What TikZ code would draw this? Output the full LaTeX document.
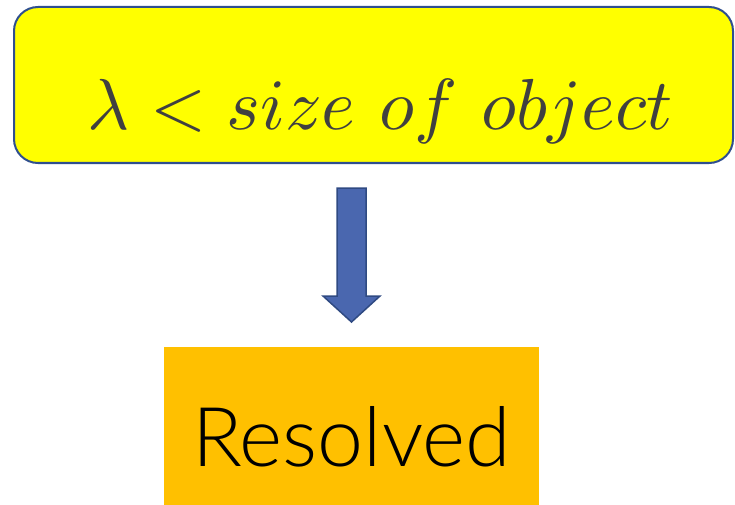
\documentclass[tikz,border=0pt]{standalone}
\usepackage{fontspec}
\newfontfamily\thinsans{Lato Light}
\definecolor{condfill}{HTML}{FFFF00}
\definecolor{condedge}{HTML}{2F4F8F}
\definecolor{condtext}{HTML}{404040}
\definecolor{resfill}{HTML}{FFC000}
\definecolor{arrowfill}{HTML}{4A67AF}
\definecolor{arrowedge}{HTML}{2F4A82}
\tikzset{
  condbox/.style={draw=condedge, line width=2pt, fill=condfill, rounded corners=24pt,
    minimum width=719pt, minimum height=156pt, inner sep=0pt},
  resbox/.style={fill=resfill, minimum width=375pt, minimum height=158pt, inner sep=0pt},
  blockarrow/.style={fill=arrowfill, draw=arrowedge, line width=1.5pt, line join=miter}
}
\begin{document}
\begin{tikzpicture}[x=1pt, y=-1pt]
  \useasboundingbox (0,0) rectangle (735,505);
  % condition box
  \node[condbox] (cond) at (373.5,85) {};
  \node[anchor=base, text=condtext, inner sep=0pt] (condlabel) at (380.5,130)
    {\resizebox{585pt}{!}{$\lambda < size\ of\ object$}};
  % result box
  \node[resbox] (res) at (351.5,426) {};
  \node[anchor=base, inner sep=0pt] (reslabel) at (351.5,466)
    {\fontsize{82.5}{86}\selectfont\thinsans Resolved};
  % block arrow between the boxes (shifts are in page orientation: up is positive)
  \coordinate (atop) at (351.5,188);
  \coordinate (atip) at (351.5,322);
  \draw[blockarrow] ([xshift=-14.5pt]atop) -- ([xshift=14.5pt]atop)
    -- ([xshift=14.5pt,yshift=26pt]atip) -- ([xshift=28.5pt,yshift=26pt]atip)
    -- (atip) -- ([xshift=-28.5pt,yshift=26pt]atip)
    -- ([xshift=-14.5pt,yshift=26pt]atip) -- cycle;
\end{tikzpicture}
\end{document}
